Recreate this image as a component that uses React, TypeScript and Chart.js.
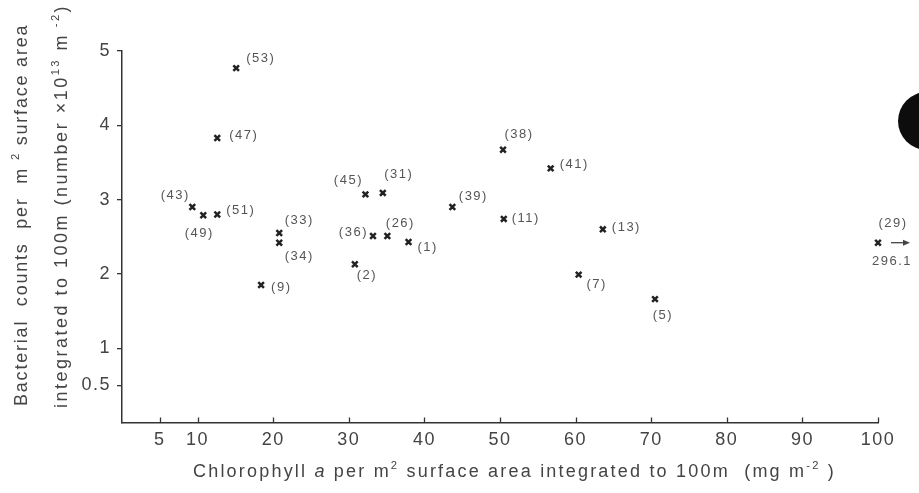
import React, { useEffect, useRef } from "react";
import { Chart, registerables } from "chart.js";

Chart.register(...registerables);

// ---- data ----
const STATION_IDS = ["53", "47", "43", "49", "51", "33", "34", "9", "45", "31", "36", "26", "1", "2", "38", "41", "39", "11", "13", "7", "5", "29"];
const CHLOROPHYLL_A = [15.1, 12.6, 9.3, 10.75, 12.6, 20.8, 20.8, 18.4, 32.2, 34.5, 33.2, 35.1, 37.9, 30.8, 50.4, 56.7, 43.7, 50.5, 63.6, 60.4, 70.5, 296.1];
const BACTERIAL_COUNTS = [4.77, 3.83, 2.9, 2.79, 2.8, 2.55, 2.42, 1.85, 3.07, 3.09, 2.51, 2.51, 2.43, 2.13, 3.67, 3.42, 2.9, 2.74, 2.6, 1.99, 1.66, 2.42];
const X_TICKS = [5, 10, 20, 30, 40, 50, 60, 70, 80, 90, 100];
const Y_TICKS = [0.5, 1, 2, 3, 4, 5];
const X_MIN = 0;
const X_MAX = 100;
const Y_MIN = 0;
const Y_MAX = 5;

// ---- label placement (style, not data): [dx, dy, align] ----
type Place = [number, number, CanvasTextAlign];
const LABEL_PLACE: Place[] = [
  [10, -10, "left"], // 53
  [12, -3, "left"], // 47
  [-17, -12, "center"], // 43
  [-4, 18, "center"], // 49
  [9, -4, "left"], // 51
  [20, -13, "center"], // 33
  [20, 14, "center"], // 34
  [10, 2, "left"], // 9
  [-17, -14, "center"], // 45
  [16, -18, "center"], // 31
  [-5, -4, "right"], // 36
  [13, -13, "center"], // 26
  [9, 5, "left"], // 1
  [12, 11, "center"], // 2
  [16, -15, "center"], // 38
  [9, -4, "left"], // 41
  [21, -11, "center"], // 39
  [8, 0, "left"], // 11
  [9, -2, "left"], // 13
  [18, 10, "center"], // 7
  [8, 16, "center"], // 5
  [15, -19, "center"], // 29
];

type Run = { t: string; it?: boolean; sup?: boolean };
const X_TITLE: Run[] = [
  { t: "Chlorophyll " },
  { t: "a", it: true },
  { t: " per m" },
  { t: "2", sup: true },
  { t: " surface area integrated to 100m  (mg m" },
  { t: "-2", sup: true },
  { t: " )" },
];
const Y_TITLE_1: Run[] = [
  { t: "Bacterial  counts  per  m " },
  { t: "2", sup: true },
  { t: " surface area" },
];
const Y_TITLE_2: Run[] = [
  { t: "integrated to 100m (number ×10" },
  { t: "13", sup: true },
  { t: " m" },
  { t: " -2", sup: true },
  { t: ")" },
];

const FAMILY = '"Liberation Sans", Arial, Helvetica, sans-serif';
const AXIS_COLOR = "#333";
const TEXT_COLOR = "#444";

function drawRich(ctx: CanvasRenderingContext2D, runs: Run[], x: number, y: number, size: number) {
  let cx = x;
  for (const r of runs) {
    const fs = r.sup ? size * 0.62 : size;
    ctx.font = `${r.it ? "italic " : ""}${fs}px ${FAMILY}`;
    ctx.fillText(r.t, cx, r.sup ? y - size * 0.42 : y);
    cx += ctx.measureText(r.t).width;
  }
}

const decorPlugin = {
  id: "decor",
  beforeDraw(chart: any) {
    chart.ctx.letterSpacing = "1.5px";
  },
  afterDraw(chart: any) {
    const ctx: CanvasRenderingContext2D = chart.ctx;
    const meta = chart.getDatasetMeta(0);
    const xs = chart.scales.x;

    ctx.save();
    // x-axis ticks pointing up (inside)
    ctx.strokeStyle = AXIS_COLOR;
    ctx.lineWidth = 1.3;
    xs.ticks.forEach((t: any) => {
      const px = Math.round(xs.getPixelForValue(t.value)) + 0.5;
      ctx.beginPath();
      ctx.moveTo(px, xs.top);
      ctx.lineTo(px, xs.top - 5);
      ctx.stroke();
    });

    // point labels
    ctx.letterSpacing = "1.5px";
    ctx.fillStyle = "#555";
    ctx.textBaseline = "middle";
    ctx.font = `13px ${FAMILY}`;
    meta.data.forEach((el: any, i: number) => {
      const [dx, dy, align] = LABEL_PLACE[i];
      ctx.textAlign = align;
      ctx.fillText(`(${STATION_IDS[i]})`, el.x + dx, el.y + dy);
      if (CHLOROPHYLL_A[i] > X_MAX) {
        ctx.fillText(String(CHLOROPHYLL_A[i]), el.x + 14, el.y + 19);
        ctx.strokeStyle = "#444";
        ctx.lineWidth = 1.3;
        ctx.beginPath();
        ctx.moveTo(el.x + 13, el.y);
        ctx.lineTo(el.x + 27, el.y);
        ctx.stroke();
        ctx.fillStyle = "#444";
        ctx.beginPath();
        ctx.moveTo(el.x + 32, el.y);
        ctx.lineTo(el.x + 25, el.y - 3);
        ctx.lineTo(el.x + 25, el.y + 3);
        ctx.closePath();
        ctx.fill();
        ctx.fillStyle = "#555";
      }
    });

    // axis titles
    ctx.fillStyle = TEXT_COLOR;
    ctx.textAlign = "left";
    ctx.textBaseline = "alphabetic";
    ctx.letterSpacing = "2.2px";
    drawRich(ctx, X_TITLE, 193, 477, 18);

    ctx.letterSpacing = "1.8px";
    ctx.save();
    ctx.translate(27, 406);
    ctx.rotate(-Math.PI / 2);
    drawRich(ctx, Y_TITLE_1, 0, 0, 18);
    ctx.restore();

    ctx.letterSpacing = "2.5px";
    ctx.save();
    ctx.translate(67, 408);
    ctx.rotate(-Math.PI / 2);
    drawRich(ctx, Y_TITLE_2, 0, 0, 18);
    ctx.restore();

    // dark blot at right page edge
    ctx.fillStyle = "#0d0d0d";
    ctx.beginPath();
    ctx.ellipse(927, 121, 29, 29, 0, 0, Math.PI * 2);
    ctx.fill();
    ctx.restore();
  },
};

export default function App() {
  const ref = useRef<HTMLCanvasElement | null>(null);
  useEffect(() => {
    if (!ref.current) return;
    const points = CHLOROPHYLL_A.map((x, i) => ({ x: Math.min(x, X_MAX), y: BACTERIAL_COUNTS[i] }));
    const tickFont = { family: FAMILY, size: 18 };
    const chart = new Chart(ref.current, {
      type: "scatter",
      data: {
        datasets: [
          {
            data: points,
            pointStyle: "crossRot",
            pointRadius: 4,
            pointBorderWidth: 2.5,
            borderColor: "#222",
            backgroundColor: "#222",
            clip: false as any,
          },
        ],
      },
      options: {
        responsive: false,
        animation: false,
        devicePixelRatio: 1,
        layout: { padding: { left: 0, top: 51, right: 41, bottom: 0 } },
        plugins: { legend: { display: false }, tooltip: { enabled: false } },
        scales: {
          x: {
            type: "linear",
            min: X_MIN,
            max: X_MAX,
            afterFit(s: any) {
              s.height = 70.5;
            },
            afterBuildTicks(s: any) {
              s.ticks = X_TICKS.map((v) => ({ value: v }));
            },
            grid: { display: true, drawOnChartArea: false, drawTicks: false },
            border: { display: true, color: AXIS_COLOR, width: 1.5 },
            ticks: { padding: 7, font: tickFont, color: TEXT_COLOR, autoSkip: false, maxRotation: 0 },
          },
          y: {
            type: "linear",
            min: Y_MIN,
            max: Y_MAX,
            afterFit(s: any) {
              s.width = 122;
            },
            afterBuildTicks(s: any) {
              s.ticks = Y_TICKS.map((v) => ({ value: v }));
            },
            grid: { display: true, drawOnChartArea: false, drawTicks: true, tickLength: 5, color: AXIS_COLOR, lineWidth: 1.3 },
            border: { display: true, color: AXIS_COLOR, width: 1.5 },
            ticks: { padding: 6, font: tickFont, color: TEXT_COLOR, autoSkip: false },
          },
        },
      },
      plugins: [decorPlugin],
    });
    return () => chart.destroy();
  }, []);
  return (
    <div style={{ position: "fixed", left: 0, top: 0, width: 919, height: 493, background: "#fff" }}>
      <canvas ref={ref} width={919} height={493} style={{ display: "block" }} />
    </div>
  );
}
